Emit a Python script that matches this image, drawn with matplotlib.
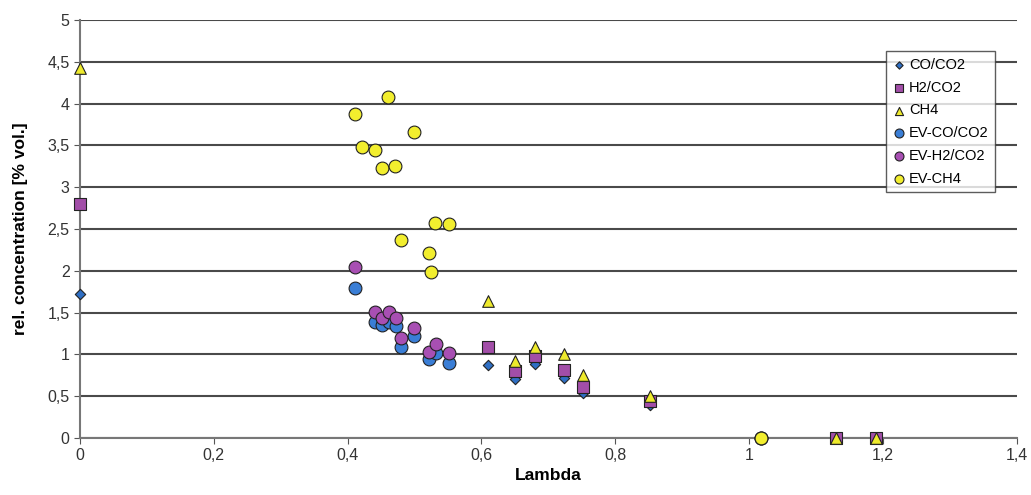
import matplotlib
matplotlib.use("Agg")
import matplotlib.pyplot as plt
from matplotlib.ticker import FuncFormatter, MultipleLocator

plt.rcParams["font.family"] = ["Liberation Sans", "DejaVu Sans"]

# measured series
lam = [0.0, 0.61, 0.65, 0.68, 0.724, 0.752, 0.852, 1.13, 1.19]
co_co2 = [1.72, 0.87, 0.71, 0.89, 0.72, 0.54, 0.40, 0.0, 0.0]
h2_co2 = [2.80, 1.09, 0.80, 0.98, 0.81, 0.61, 0.44, 0.0, 0.0]
ch4 = [4.42, 1.64, 0.92, 1.09, 1.00, 0.75, 0.50, 0.0, 0.0]

# EV series
lam_ev = [0.411, 0.441, 0.451, 0.462, 0.472, 0.48, 0.50, 0.522, 0.532, 0.551, 1.018]
ev_co_co2 = [1.80, 1.39, 1.35, 1.39, 1.34, 1.09, 1.22, 0.94, 1.02, 0.90, 0.0]
ev_h2_co2 = [2.04, 1.51, 1.43, 1.51, 1.43, 1.19, 1.32, 1.03, 1.12, 1.02, 0.0]
lam_ev_ch4 = [0.411, 0.422, 0.441, 0.451, 0.461, 0.471, 0.48, 0.50, 0.522, 0.524, 0.53, 0.552, 1.018]
ev_ch4 = [3.88, 3.48, 3.45, 3.23, 4.08, 3.25, 2.37, 3.66, 2.21, 1.98, 2.57, 2.56, 0.0]

fig = plt.figure(figsize=(10.31, 4.95), dpi=100)
ax = fig.add_axes([0.0776, 0.1152, 0.9084, 0.8444])

edge = "#222222"
ax.scatter(lam, co_co2, marker="D", s=28, color="#2f6fc4", edgecolors=edge, linewidths=0.8,
           label="CO/CO2", clip_on=False, zorder=3)
ax.scatter(lam, h2_co2, marker="s", s=70, color="#a24ea8", edgecolors=edge, linewidths=0.8,
           label="H2/CO2", clip_on=False, zorder=3)
ax.scatter(lam, ch4, marker="^", s=70, color="#eeea2c", edgecolors=edge, linewidths=0.8,
           label="CH4", clip_on=False, zorder=3)
ax.scatter(lam_ev, ev_co_co2, marker="o", s=85, color="#3a7ed6", edgecolors=edge, linewidths=0.8,
           label="EV-CO/CO2", clip_on=False, zorder=3)
ax.scatter(lam_ev, ev_h2_co2, marker="o", s=85, color="#a84fb3", edgecolors=edge, linewidths=0.8,
           label="EV-H2/CO2", clip_on=False, zorder=3)
ax.scatter(lam_ev_ch4, ev_ch4, marker="o", s=85, color="#f2ee2e", edgecolors=edge, linewidths=0.8,
           label="EV-CH4", clip_on=False, zorder=3)

ax.set_xlim(0, 1.4)
ax.set_ylim(0, 5)
ax.xaxis.set_major_locator(MultipleLocator(0.2))
ax.yaxis.set_major_locator(MultipleLocator(0.5))
fmt = FuncFormatter(lambda v, p: ("%g" % round(v, 2)).replace(".", ","))
ax.xaxis.set_major_formatter(fmt)
ax.yaxis.set_major_formatter(fmt)

ax.grid(axis="y", color="#4a4a4a", linewidth=1.5)
ax.set_axisbelow(True)
for side in ("top", "right"):
    ax.spines[side].set_visible(False)
for side in ("left", "bottom"):
    ax.spines[side].set_color("#777777")
    ax.spines[side].set_linewidth(1.5)
ax.tick_params(axis="both", direction="out", length=4, color="#555555",
               labelsize=11.5, labelcolor="#333333")

ax.set_xlabel("Lambda", fontsize=12.5, fontweight="bold", labelpad=3)
ax.set_ylabel("rel. concentration [% vol.]", fontsize=12.5, fontweight="bold", labelpad=14)

leg = ax.legend(loc="upper right", bbox_to_anchor=(0.977, 0.925), fontsize=10.5,
                frameon=True, fancybox=False, handletextpad=0.15, handlelength=1.0,
                borderpad=0.45, labelspacing=0.6, borderaxespad=0, markerscale=0.7)
leg.get_frame().set_edgecolor("#333333")
leg.get_frame().set_linewidth(1.0)

fig.savefig("out.png", dpi=100)
